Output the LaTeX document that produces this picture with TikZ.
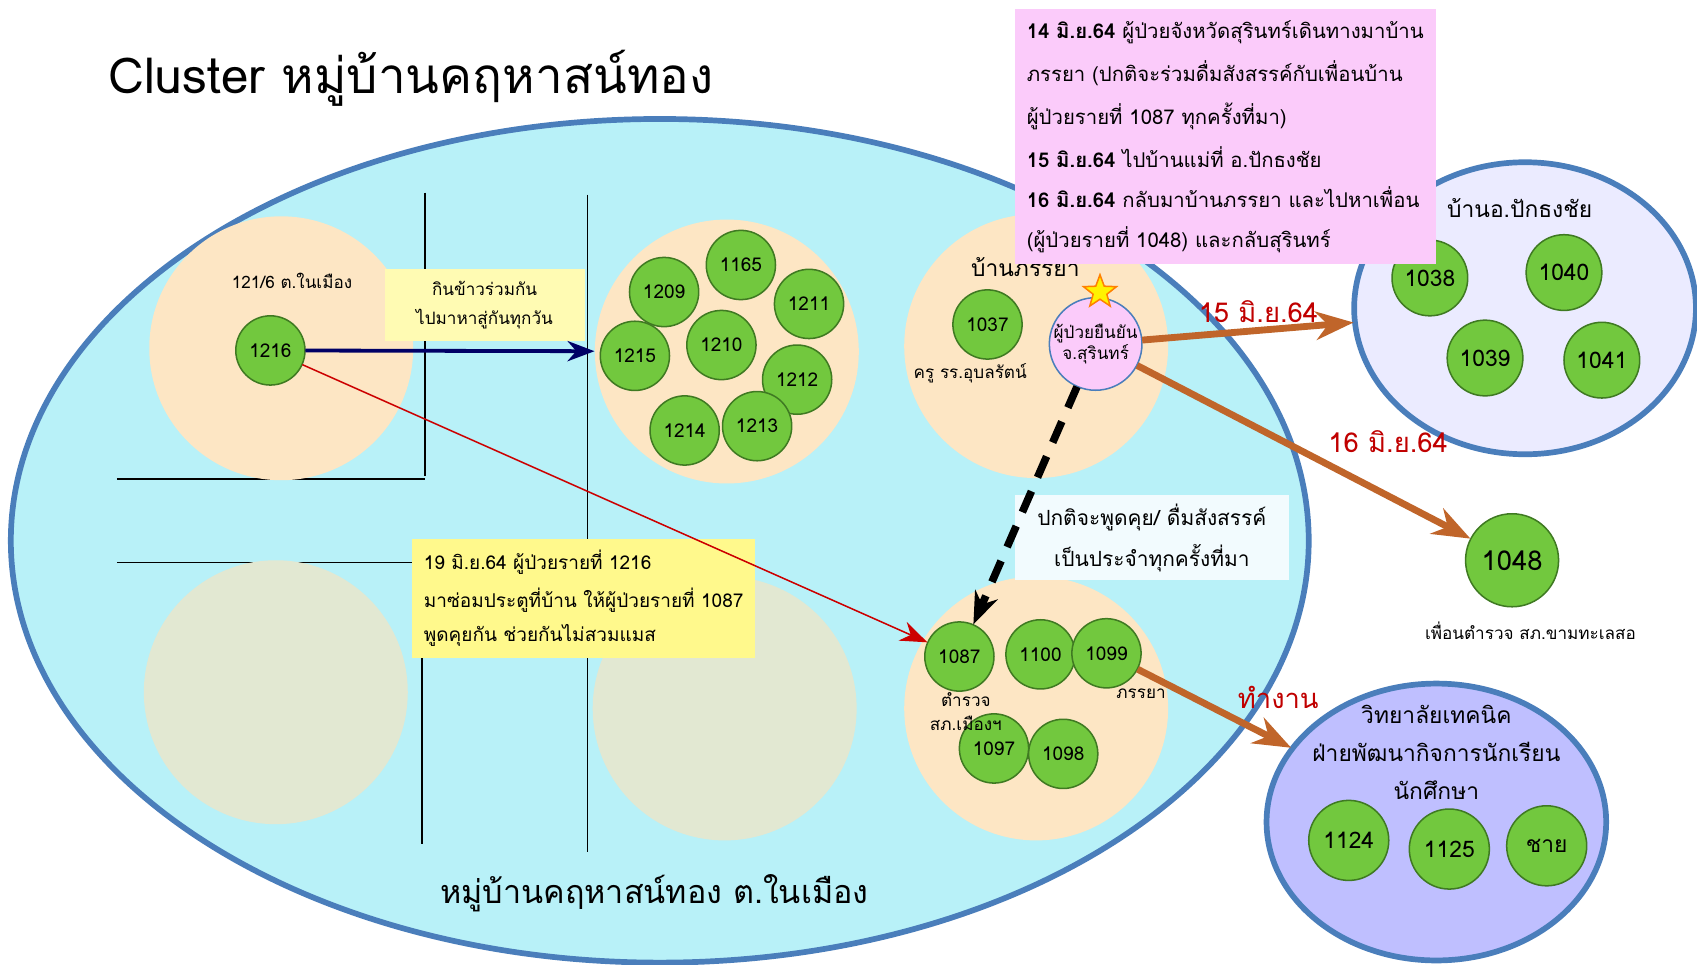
\documentclass[tikz,border=0pt]{standalone}
\usepackage{fontspec}
\setmainfont[Script=Thai]{Loma}
\usetikzlibrary{shapes.geometric,arrows.meta}
\definecolor{sky}{HTML}{B8F1F8}
\definecolor{rim}{HTML}{4A7EBB}
\definecolor{peach}{HTML}{FDE6C4}
\definecolor{sage}{HTML}{E2E8D2}
\definecolor{leaf}{HTML}{72C83E}
\definecolor{leafdark}{HTML}{3F7A22}
\definecolor{rust}{HTML}{C0652A}
\definecolor{wine}{HTML}{C00000}
\definecolor{orchid}{HTML}{FBCBFA}
\tikzset{
  case/.style={circle,draw=leafdark,fill=leaf,minimum size=64*0.02cm,inner sep=0pt,font=\normalsize},
  zone/.style={circle,fill=#1,minimum size=244*0.02cm,inner sep=0pt},
  note/.style={align=left,inner sep=6pt,font=\normalsize},
  trip/.style={draw=rust,line width=1.8pt,-{Stealth[length=3.5mm]}},
  when/.style={text=wine,font=\Large}
}
\begin{document}
\begin{tikzpicture}[x=0.02cm,y=-0.02cm,scale=0.5,every node/.append style={transform shape}]
    \useasboundingbox (0,0) rectangle (1569,892);
    \node[font=\fontsize{26}{30}\selectfont] (title) at (380,72) {Cluster หมู่บ้านคฤหาสน์ทอง};
    \node[ellipse,draw=rim,line width=1.5pt,fill=sky,minimum width=1200*0.02cm,minimum height=780*0.02cm] (village) at (610,500) {};
    % separating lines
    \draw (393,178) -- (393,440);
    \draw (543,180) -- (543,788);
    \draw (108,443) -- (393,443);
    \draw (108,520) -- (390,520);
    \draw (390,520) -- (390,780);
    % houses
    \node[zone=peach] (home) at (260,322) {};
    \node[zone=peach] (group) at (672,325) {};
    \node[zone=peach] (wife) at (958,320) {};
    \node[zone=peach] (police) at (958,655) {};
    \node[zone=sage] (empty1) at (255,640) {};
    \node[zone=sage] (empty2) at (670,655) {};
    \node[font=\small] (homelbl) at (270,260) {121/6 ต.ในเมือง};
    \node[case] (c1216) at (250,324) {1216};
    \foreach \id/\x/\y in {1165/685/245,1209/614/270,1211/748/281,1215/587/329,1210/667/319,1212/737/351,1214/633/398,1213/700/394}
      \node[case] (c\id) at (\x,\y) {\id};
    \node[font=\large] (wifelbl) at (948,247) {บ้านภรรยา};
    \node[case] (c1037) at (913,300) {1037};
    \node[font=\small] (teacher) at (897,345) {ครู รร.อุบลรัตน์};
    \node[circle,draw=rim,fill=orchid,minimum size=84*0.02cm,inner sep=0pt,align=center,font=\small] (index) at (1013,318) {ผู้ป่วยยืนยัน\\จ.สุรินทร์};
    \node[star,star points=5,star point ratio=2.4,fill=yellow,draw=orange,minimum size=32*0.02cm,inner sep=0pt] (star) at (1017,270) {};
    \foreach \id/\x/\y in {1087/887/607,1100/962/605,1099/1023/604,1097/919/692,1098/983/697}
      \node[case] (c\id) at (\x,\y) {\id};
    \node[align=center,font=\small] (cop) at (893,658) {ตำรวจ\\[2pt]สภ.เมืองฯ};
    \node[font=\small] (spouse) at (1055,641) {ภรรยา};
    % outside places
    \node[ellipse,draw=rim,line width=1.5pt,fill=blue!8,minimum width=316*0.02cm,minimum height=270*0.02cm] (pak) at (1410,285) {};
    \node[font=\large] (paklbl) at (1405,192) {บ้านอ.ปักธงชัย};
    \foreach \id/\x/\y in {1038/1322/257,1040/1446/252,1039/1373/331,1041/1481/333}
      \node[case,minimum size=70*0.02cm,font=\large] (c\id) at (\x,\y) {\id};
    \node[case,minimum size=86*0.02cm,font=\Large] (c1048) at (1398,518) {1048};
    \node[font=\small] (friend) at (1415,583) {เพื่อนตำรวจ สภ.ขามทะเลสอ};
    \node[ellipse,draw=rim,line width=1.5pt,fill=blue!25,minimum width=314*0.02cm,minimum height=256*0.02cm] (college) at (1328,760) {};
    \node[align=center,font=\large] (collegelbl) at (1328,696) {วิทยาลัยเทคนิค\\[6pt]ฝ่ายพัฒนากิจการนักเรียน\\[6pt]นักศึกษา};
    \node[case,minimum size=74*0.02cm,font=\large] (c1124) at (1247,777) {1124};
    \node[case,minimum size=74*0.02cm,font=\large] (c1125) at (1340,785) {1125};
    \node[case,minimum size=74*0.02cm,font=\large] (boy) at (1430,782) {ชาย};
    % notes
    \node[note,fill=orchid,anchor=north west,minimum width=389*0.02cm,minimum height=222*0.02cm,font=\fontsize{10.7}{13}\selectfont] (story) at (938,8) {%
      \textbf{14 มิ.ย.64} ผู้ป่วยจังหวัดสุรินทร์เดินทางมาบ้าน\\[8pt]
      ภรรยา (ปกติจะร่วมดื่มสังสรรค์กับเพื่อนบ้าน\\[8pt]
      ผู้ป่วยรายที่ 1087 ทุกครั้งที่มา)\\[8pt]
      \textbf{15 มิ.ย.64} ไปบ้านแม่ที่ อ.ปักธงชัย\\[8pt]
      \textbf{16 มิ.ย.64} กลับมาบ้านภรรยา และไปหาเพื่อน\\[8pt]
      (ผู้ป่วยรายที่ 1048) และกลับสุรินทร์};
    \node[fill=yellow!30,align=center,font=\small,minimum width=185*0.02cm,minimum height=67*0.02cm] (meal) at (448,282) {กินข้าวร่วมกัน\\[4pt]ไปมาหาสู่กันทุกวัน};
    \node[note,fill=yellow!45,anchor=north west,minimum width=316*0.02cm,minimum height=103*0.02cm] (door) at (381,498) {%
      19 มิ.ย.64 ผู้ป่วยรายที่ 1216\\[6pt]มาซ่อมประตูที่บ้าน ให้ผู้ป่วยรายที่ 1087\\[6pt]พูดคุยกัน ช่วยกันไม่สวมแมส};
    \node[fill=cyan!5,align=center,font=\fontsize{11}{13}\selectfont,minimum width=254*0.02cm,minimum height=79*0.02cm] (drink) at (1065,497) {ปกติจะพูดคุย/ ดื่มสังสรรค์\\[6pt]เป็นประจำทุกครั้งที่มา};
    \node[font=\fontsize{17}{20}\selectfont] (villagelbl) at (605,826) {หมู่บ้านคฤหาสน์ทอง ต.ในเมือง};
    % connectors
    \draw[draw=blue!40!black,line width=1pt,-{Stealth[length=2.5mm]}] (c1216) -- (group);
    \draw[red!80!black,-{Stealth[length=2.5mm]}] (c1216) -- (c1087);
    \draw[dash pattern=on 6pt off 4pt,line width=2pt,-{Stealth[length=3mm]}] (index) -- (c1087);
    \draw[trip] (index) -- (pak) node[when,pos=0.55,above] {15 มิ.ย.64};
    \draw[trip] (index) -- (c1048) node[when,pos=0.55,above right] {16 มิ.ย.64};
    \draw[trip] (c1099) -- (college) node[when,pos=0.6,above right] {ทำงาน};
\end{tikzpicture}
\end{document}
